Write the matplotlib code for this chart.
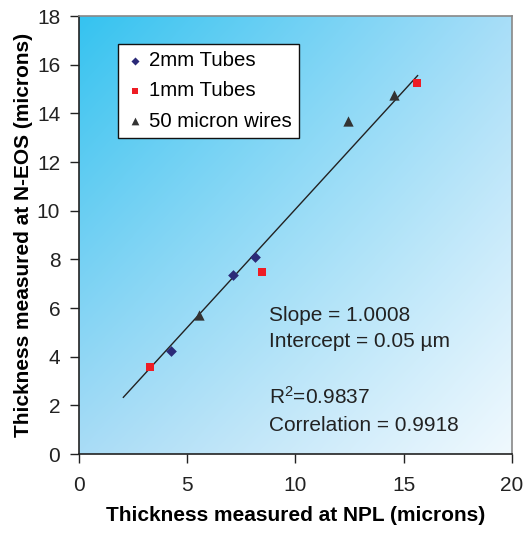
import matplotlib
matplotlib.use("Agg")
import matplotlib.pyplot as plt
import numpy as np

# data
tubes2_x = [4.25, 7.1, 8.15]
tubes2_y = [4.25, 7.34, 8.1]
tubes1_x = [3.28, 8.46, 15.6]
tubes1_y = [3.59, 7.49, 15.26]
wires_x = [5.56, 12.45, 14.56]
wires_y = [5.72, 13.68, 14.76]
fit_x = [2.05, 15.65]
fit_y = [2.33, 15.55]
x_ticks = [0, 5, 10, 15, 20]
y_ticks = [0, 2, 4, 6, 8, 10, 12, 14, 16, 18]

plt.rcParams['font.family'] = ['Liberation Sans', 'DejaVu Sans']
plt.rcParams['mathtext.fontset'] = 'custom'
plt.rcParams['mathtext.rm'] = 'Liberation Sans'
plt.rcParams['mathtext.it'] = 'Liberation Sans:italic'
plt.rcParams['mathtext.bf'] = 'Liberation Sans:bold'

fig = plt.figure(figsize=(5.28, 5.33), dpi=100)
ax = fig.add_axes([79/528, 1 - 454/533, (511.7-79)/528, (454-16)/533])

# gradient background
c_tl = np.array([0x35, 0xc3, 0xf0]) / 255
c_tr = np.array([0xa8, 0xde, 0xf8]) / 255
c_bl = np.array([0xa9, 0xdc, 0xf6]) / 255
c_br = np.array([0xf0, 0xf9, 0xfe]) / 255
n = 200
u = np.linspace(0, 1, n)[None, :, None]
v = np.linspace(0, 1, n)[:, None, None]
img = (1-u)*(1-v)*c_tl + u*(1-v)*c_tr + (1-u)*v*c_bl + u*v*c_br
ax.imshow(img, extent=[0, 20, 0, 18], origin='upper', aspect='auto', zorder=0, interpolation='bilinear')

ax.plot(fit_x, fit_y, color='#222222', lw=1.0, zorder=2)
ax.scatter(tubes2_x, tubes2_y, marker='D', s=30, color='#2b2a78', label='2mm Tubes', zorder=3, linewidths=0)
ax.scatter(tubes1_x, tubes1_y, marker='s', s=40, color='#ee1c24', label='1mm Tubes', zorder=3, linewidths=0)
ax.scatter(wires_x, wires_y, marker='^', s=55, color='#333333', label='50 micron wires', zorder=3, linewidths=0)

ax.set_xlim(0, 20)
ax.set_ylim(0, 18)
ax.set_xticks(x_ticks)
ax.set_yticks(y_ticks)
ax.tick_params(direction='out', length=6.5, width=1, labelsize=15, colors='#222222')
ax.tick_params(axis='x', pad=9)
ax.tick_params(axis='y', pad=7)

for s in ['top', 'right']:
    ax.spines[s].set_color('#888888')
    ax.spines[s].set_linewidth(1.2)
for s in ['left', 'bottom']:
    ax.spines[s].set_color('#222222')
    ax.spines[s].set_linewidth(1.2)

ax.set_xlabel('Thickness measured at NPL (microns)', fontsize=15, fontweight='bold', labelpad=8)
ax.set_ylabel('Thickness measured at N-EOS (microns)', fontsize=15, fontweight='bold', labelpad=3)

leg = ax.legend(loc='upper left', bbox_to_anchor=(0.0895, 0.936), fontsize=14.7, frameon=True,
                fancybox=False, framealpha=1, edgecolor='#111111', handletextpad=0.2,
                handlelength=1.0, borderpad=0.35, borderaxespad=0, labelspacing=0.55,
                scatterpoints=1, markerscale=0.75)
leg.get_frame().set_linewidth(1.0)

txt_kw = dict(fontsize=15, color='#222222', zorder=4, va='baseline')
ax.text(8.78, 5.48, 'Slope = 1.0008', **txt_kw)
ax.text(8.78, 4.41, 'Intercept = 0.05 µm', **txt_kw)
ax.text(8.78, 2.05, 'R$^2$=0.9837', **txt_kw)
ax.text(8.78, 0.945, 'Correlation = 0.9918', **txt_kw)

fig.savefig('out.png', dpi=100)
